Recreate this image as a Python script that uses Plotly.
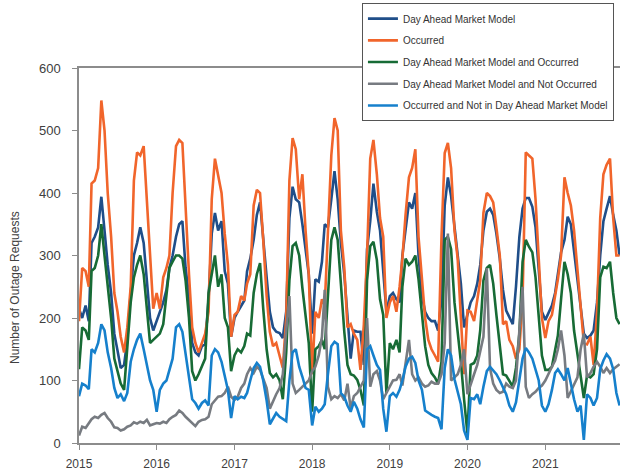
import plotly.graph_objects as go

# Semi-monthly observation dates, Jan 2015 - Dec 2021
dates = [f"{y}-{m:02d}-{d:02d}" for y in range(2015, 2022) for m in range(1, 13) for d in (1, 16)]

day_ahead_model = [
    215, 200, 220, 195, 320, 330, 345, 394, 340, 285, 240, 175, 148, 120, 125, 165, 240, 300, 320, 345, 320, 265, 200, 180,
    195, 210, 225, 245, 280, 300, 330, 350, 355, 280, 235, 160, 145, 140, 155, 158, 230, 335, 368, 340, 355, 275, 255, 170,
    200, 210, 220, 228, 275, 295, 325, 365, 385, 320, 265, 210, 185, 178, 176, 168, 210, 360, 410, 390, 385, 350, 310, 270,
    175, 262, 258, 290, 350, 345, 390, 435, 390, 320, 270, 200, 135, 180, 178, 178, 125, 310, 355, 415, 370, 340, 280, 210,
    235, 240, 230, 225, 300, 345, 385, 375, 400, 300, 235, 210, 200, 195, 195, 180, 230, 380, 425, 395, 345, 300, 255, 185,
    205, 225, 235, 255, 285, 340, 370, 375, 365, 335, 295, 245, 212, 200, 190, 250, 330, 375, 392, 392, 378, 345, 270, 210,
    197, 208, 220, 240, 270, 305, 325, 362, 350, 305, 262, 220, 175, 168, 172, 180, 225, 300, 355, 375, 395, 365, 340, 300,
]

occurred = [
    195, 280, 275, 250, 415, 420, 440, 548, 500, 400, 330, 240, 210, 170, 145, 185, 250, 420, 465, 460, 475, 385, 310, 215,
    240, 215, 265, 280, 300, 400, 475, 485, 480, 370, 270, 185, 160, 145, 160, 175, 210, 390, 455, 425, 400, 335, 285, 170,
    205, 210, 235, 228, 255, 270, 380, 405, 400, 325, 235, 178, 155, 160, 140, 120, 200, 420, 488, 470, 390, 430, 340, 270,
    110, 210, 200, 230, 220, 350, 460, 520, 500, 340, 280, 185, 190, 175, 165, 117, 190, 300, 455, 485, 430, 360, 330, 200,
    225, 235, 210, 250, 295, 365, 425, 440, 470, 330, 265, 200, 165, 150, 140, 130, 330, 464, 480, 440, 340, 295, 200, 110,
    212, 210, 195, 225, 260, 368, 400, 395, 385, 345, 300, 190, 195, 165, 155, 135, 150, 230, 465, 460, 455, 390, 300, 200,
    168, 195, 205, 235, 262, 300, 425, 400, 380, 340, 275, 215, 160, 158, 170, 125, 210, 360, 430, 445, 455, 360, 300, 300,
]

model_and_occurred = [
    118, 185, 180, 165, 275, 280, 300, 350, 300, 250, 200, 135, 115, 95, 85, 150, 225, 265, 285, 300, 270, 215, 160, 165,
    170, 175, 190, 235, 280, 290, 300, 300, 295, 260, 200, 115, 100, 110, 122, 135, 240, 270, 300, 250, 270, 200, 185, 115,
    140, 150, 145, 155, 175, 172, 240, 270, 288, 215, 150, 112, 105, 110, 100, 70, 145, 260, 315, 320, 300, 248, 200, 160,
    50, 150, 155, 165, 150, 240, 325, 345, 325, 255, 178, 125, 110, 108, 101, 85, 60, 260, 315, 322, 293, 230, 205, 80,
    160, 150, 165, 145, 250, 295, 285, 290, 300, 262, 200, 155, 125, 112, 105, 95, 130, 325, 330, 310, 225, 180, 130, 70,
    15, 125, 128, 140, 180, 260, 280, 285, 255, 205, 150, 110, 108, 100, 90, 120, 175, 290, 325, 314, 305, 265, 200, 140,
    117, 117, 122, 150, 172, 230, 290, 270, 240, 180, 140, 105, 72, 108, 105, 110, 150, 265, 282, 280, 290, 240, 200, 190,
]

model_not_occurred = [
    12, 26, 24, 32, 38, 42, 40, 45, 48, 40, 34, 25, 24, 20, 22, 26, 28, 33, 31, 34, 32, 37, 28, 30,
    32, 31, 34, 32, 38, 42, 45, 52, 48, 42, 37, 32, 27, 34, 37, 38, 42, 62, 69, 74, 75, 80, 90, 74,
    69, 74, 88, 95, 110, 120, 112, 122, 117, 102, 88, 55, 68, 78, 88, 110, 180, 235, 95, 80, 85, 90, 95, 100,
    115, 122, 140, 170, 245, 90, 70, 75, 72, 78, 68, 95, 55, 75, 80, 90, 100, 200, 90, 110, 115, 100, 70, 80,
    90, 100, 101, 110, 92, 130, 165, 110, 100, 105, 95, 90, 92, 98, 95, 95, 110, 160, 335, 100, 105, 110, 125, 150,
    78, 95, 110, 125, 145, 170, 280, 120, 95, 85, 80, 82, 95, 90, 88, 100, 180, 250, 90, 72, 78, 82, 88, 92,
    100, 112, 122, 132, 150, 180, 140, 72, 82, 92, 105, 150, 175, 105, 112, 122, 130, 122, 112, 120, 112, 118, 122, 126,
]

occurred_not_in_model = [
    75, 95, 92, 86, 150, 145, 160, 190, 180, 145, 120, 88, 72, 78, 67, 80, 130, 150, 165, 175, 150, 125, 100, 85,
    50, 85, 95, 100, 115, 135, 185, 190, 178, 140, 100, 70, 64, 55, 64, 68, 60, 140, 150, 145, 130, 105, 85, 40,
    75, 70, 74, 72, 80, 100, 120, 128, 122, 100, 68, 30, 38, 48, 42, 38, 35, 100, 145, 150, 122, 106, 88, 85,
    28, 58, 50, 55, 62, 110, 155, 162, 158, 80, 74, 60, 50, 66, 55, 38, 25, 150, 155, 140, 125, 117, 55, 18,
    75, 80, 74, 85, 100, 122, 135, 138, 128, 100, 85, 52, 48, 45, 42, 40, 22, 120, 150, 140, 102, 80, 62, 20,
    5, 72, 70, 78, 62, 90, 115, 122, 115, 110, 100, 88, 78, 60, 50, 65, 105, 135, 152, 145, 135, 118, 100, 60,
    50, 62, 85, 112, 118, 110, 100, 120, 95, 70, 50, 60, 5, 78, 72, 60, 72, 118, 132, 142, 135, 118, 80, 60,
]

series = [
    ("Day Ahead Market Model", day_ahead_model, "#1F4E89"),
    ("Occurred", occurred, "#F1652B"),
    ("Day Ahead Market Model and Occurred", model_and_occurred, "#176B35"),
    ("Day Ahead Market Model and Not Occurred", model_not_occurred, "#777B81"),
    ("Occurred and Not in Day Ahead Market Model", occurred_not_in_model, "#1680CC"),
]

year_ticks = [f"{y}-01-01" for y in range(2015, 2022)]
year_labels = [str(y) for y in range(2015, 2022)]

FONT = "Arial, 'Liberation Sans', sans-serif"
AXIS_GREY = "#8C8C8C"
TEXT_GREY = "#404040"

fig = go.Figure()
for name, values, color in series:
    fig.add_trace(go.Scatter(
        x=dates, y=values, name=name, mode="lines",
        legendgroup=name,
        line=dict(color=color, width=2.6),
    ))

fig.update_layout(
    width=620, height=470,
    margin=dict(l=79, r=0, t=68, b=27),
    paper_bgcolor="white", plot_bgcolor="white",
    font=dict(family=FONT, size=12, color=TEXT_GREY),
    showlegend=True,
    legend=dict(
        x=0.523, y=1.173, xanchor="left", yanchor="top",
        bgcolor="white", bordercolor="#555555", borderwidth=1,
        font=dict(family=FONT, size=10, color="#333333"),
        traceorder="grouped", tracegroupgap=2.7,
    ),
    xaxis=dict(
        type="date", range=["2015-01-01", "2021-12-18"],
        tickvals=year_ticks, ticktext=year_labels,
        showline=True, linecolor=AXIS_GREY, linewidth=1.5, mirror=True,
        ticks="outside", ticklen=5, tickcolor=AXIS_GREY, tickwidth=1,
        ticklabelstandoff=4,
        showgrid=False, zeroline=False,
        tickfont=dict(size=12, color=TEXT_GREY),
    ),
    yaxis=dict(
        range=[0, 600], dtick=100,
        showline=True, linecolor=AXIS_GREY, linewidth=1.5,
        ticks="outside", ticklen=5, tickcolor=AXIS_GREY, tickwidth=1,
        ticklabelstandoff=9,
        showgrid=False, zeroline=False,
        tickfont=dict(size=13, color=TEXT_GREY),
    ),
    annotations=[dict(
        text="Number of Outage Requests", textangle=-90,
        xref="paper", yref="paper", x=(15 - 79) / 541, y=(443 - 288) / 375,
        xanchor="center", yanchor="middle", showarrow=False,
        font=dict(family=FONT, size=12, color=TEXT_GREY),
    )],
)

fig.write_html("out.html")
